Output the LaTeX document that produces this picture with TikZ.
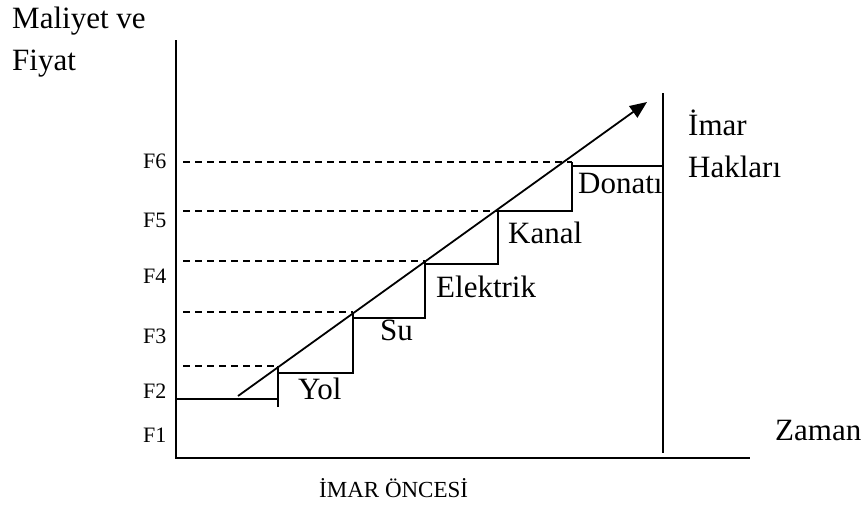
\documentclass[tikz,border=0pt]{standalone}
\usepackage{fontspec}
\setmainfont{Liberation Serif}
\usepackage{tikz}
\usetikzlibrary{arrows.meta}

\tikzset{
  axis/.style={line width=1.6pt},
  stair/.style={line width=1.8pt},
  level/.style={dashed, line width=1.1pt, dash pattern=on 7pt off 5pt},
  big/.style={inner sep=0pt, anchor=base west, font=\fontsize{31}{36}\selectfont},
  small/.style={inner sep=0pt, anchor=base west, font=\fontsize{22}{26}\selectfont}
}

\begin{document}
\begin{tikzpicture}[x=1pt, y=-1pt]
	\useasboundingbox (0,0) rectangle (866,506);
	% axes
	\coordinate (O) at (176,458);
	\coordinate (top) at (176,40);
	\coordinate (end) at (750,458);
	\draw[axis] (top) -- (O) -- (end); % Y-axis and X-axis
	\draw[axis] (663,93) -- (663,453); % right border line
	\node[big] (maliyet) at (12,28) {Maliyet ve};
	\node[big] (fiyat) at (12,70) {Fiyat};
	\node[big] (zaman) at (775,440) {Zaman};
	\node[big] (imar) at (688,135) {İmar};
	\node[big] (haklar) at (688,177) {Hakları};
	\node[small, font=\fontsize{23}{27}\selectfont] (once) at (319,497) {İMAR ÖNCESİ};

	% price levels
	\node[small] (f1) at (143,442) {F1};
	\node[small] (f2) at (143,398) {F2};
	\node[small] (f3) at (143,343) {F3};
	\node[small] (f4) at (143,283) {F4};
	\node[small] (f5) at (143,227) {F5};
	\node[small] (f6) at (143,168) {F6};
	\draw[level] (183,366) -- (278,366);
	\draw[level] (183,312) -- (353,312);
	\draw[level] (183,261) -- (425,261);
	\draw[level] (183,211) -- (498,211);
	\draw[level] (183,162) -- (572,162);

	% stairs
	\draw[stair] (176,399) -- (278,399);
	\draw[stair] (278,407) -- (278,366);
	\draw[stair] (278,373) -- (353,373) -- (353,312);
	\draw[stair] (353,318) -- (425,318) -- (425,261);
	\draw[stair] (425,264) -- (498,264) -- (498,211);
	\draw[stair] (498,211) -- (572,211) -- (572,162);
	\draw[stair] (572,166) -- (663,166);
	\node[big] (yol) at (298,399) {Yol};
	\node[big] (su) at (380,340) {Su};
	\node[big] (elektrik) at (436,297) {Elektrik};
	\node[big] (kanal) at (508,243) {Kanal};
	\node[big] (donati) at (578,193) {Donatı};

	% rising arrow
	\coordinate (start) at (238,396);
	\coordinate (tip) at (647,102);
	\draw[stair, -{Triangle[length=17pt,width=14pt]}] (start) -- (tip);
\end{tikzpicture}
\end{document}
